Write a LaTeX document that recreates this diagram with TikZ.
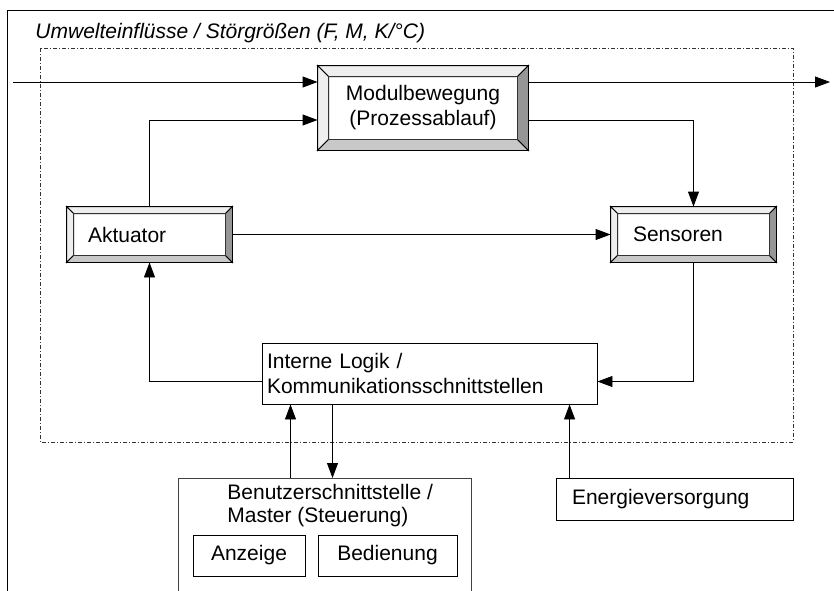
\documentclass[tikz,border=0pt]{standalone}
\usepackage{fontspec}
\setmainfont{Liberation Sans}
\usetikzlibrary{arrows.meta}

\definecolor{bevlight}{RGB}{238,238,238}
\definecolor{bevbottom}{RGB}{200,200,200}
\definecolor{bevright}{RGB}{150,150,150}

\newcommand{\bevelbox}[2]{%
  \coordinate (#1-nw) at ([xshift=#2,yshift=-#2]#1.north west);
  \coordinate (#1-ne) at ([xshift=-#2,yshift=-#2]#1.north east);
  \coordinate (#1-sw) at ([xshift=#2,yshift=#2]#1.south west);
  \coordinate (#1-se) at ([xshift=-#2,yshift=#2]#1.south east);
  \filldraw[fill=bevlight] (#1.north west) -- (#1.north east) -- (#1-ne) -- (#1-nw) -- cycle;
  \filldraw[fill=bevlight] (#1.north west) -- (#1-nw) -- (#1-sw) -- (#1.south west) -- cycle;
  \filldraw[fill=bevbottom] (#1.south west) -- (#1-sw) -- (#1-se) -- (#1.south east) -- cycle;
  \filldraw[fill=bevright] (#1.north east) -- (#1-ne) -- (#1-se) -- (#1.south east) -- cycle;
  \draw[black!80] (#1-nw) rectangle (#1-se);
}

\tikzset{
  box/.style={draw,fill=white,inner sep=0pt,font=\fontsize{21}{25}\selectfont},
  leftbox/.style={box,align=left},
  strichpunkt/.style={line width=0.7pt,black!80,dash pattern=on 4pt off 2pt on 1pt off 2pt},
}

\begin{document}
\begin{tikzpicture}[x=1pt,y=-1pt,line width=0.9pt,>={Triangle[length=15pt,width=11pt]}]
\useasboundingbox (0,0) rectangle (834,590);
\clip (0,0) rectangle (834,590);
\draw (7,10) rectangle (860,620);
\node[anchor=base west,inner sep=0pt,font=\fontsize{21}{25}\selectfont\itshape] (titel) at (35,38) {Umwelteinflüsse / Störgrößen (F, M, K/°C)};
\draw[strichpunkt] (40,48) rectangle (793,442);

\node[box,align=center,minimum width=210pt,minimum height=84pt] (modul) at (423,108) {Modulbewegung\\(Prozessablauf)};
\bevelbox{modul}{11pt}
\node[leftbox,inner xsep=21pt,text width=123pt,minimum height=55pt] (akt) at (149.5,234.5) {Aktuator};
\bevelbox{akt}{7pt}
\node[leftbox,inner xsep=22pt,text width=121pt,minimum height=55pt] (sens) at (693.5,234.5) {Sensoren};
\bevelbox{sens}{7pt}
\node[leftbox,inner xsep=5pt,text width=325pt,minimum height=61pt] (logik) at (429.5,373.5) {Interne Logik /\\Kommunikationsschnittstellen};
\node[box,draw=black!75,minimum width=293pt,minimum height=140pt,anchor=north] (bn) at (324.5,478) {};
\node[anchor=north west,inner sep=0pt,align=left,font=\fontsize{21}{23}\selectfont] (bntext) at (227,484) {Benutzerschnittstelle /\\Master (Steuerung)};
\node[box,minimum width=112pt,minimum height=41pt] (anz) at (249,555.5) {Anzeige};
\node[box,minimum width=139pt,minimum height=41pt] (bed) at (387.5,555.5) {Bedienung};
\node[leftbox,inner xsep=16pt,text width=205pt,minimum height=42pt] (energ) at (674.5,499) {Energieversorgung};

\coordinate (ein) at (13,82);
\coordinate (aus) at (830,82);
\draw[->] (ein) -- (ein -| modul.west);
\draw[->] (ein -| modul.east) -- (aus);
\draw[->] (akt.north) |- ([yshift=-12pt]modul.west);
\draw[->] ([yshift=-12pt]modul.east) -| (sens.north);
\draw[->] (akt.east) -- (sens.west);
\draw[->] (sens.south) |- ([yshift=-8pt]logik.east);
\draw[->] ([yshift=-8pt]logik.west) -| (akt.south);
\draw[->] ([xshift=-34pt]bn.north) -- ([xshift=-34pt]bn.north |- logik.south);
\draw[->] ([xshift=8pt]bn.north |- logik.south) -- ([xshift=8pt]bn.north);
\draw[->] ([xshift=14pt]energ.north west) -- ([xshift=14pt]energ.north west |- logik.south);
\end{tikzpicture}
\end{document}
